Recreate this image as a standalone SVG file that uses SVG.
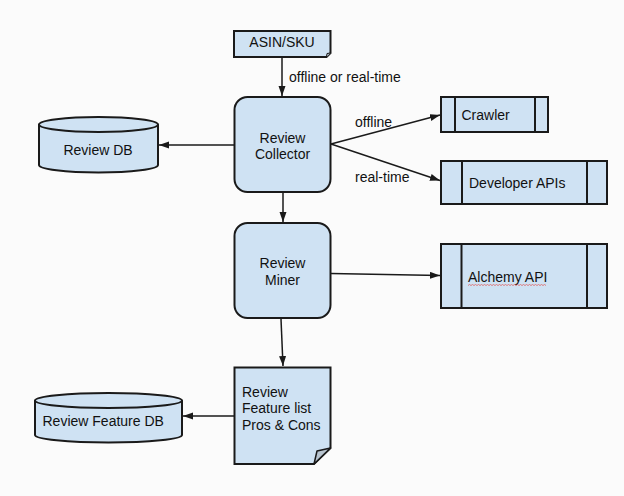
<svg xmlns="http://www.w3.org/2000/svg" width="624" height="496" viewBox="0 0 624 496">
<style>
.s{fill:#cfe2f3;stroke:#1a1a1a;stroke-width:2}
.l{fill:none;stroke:#1a1a1a;stroke-width:1.5}
.t{font-family:"Liberation Sans",Arial,sans-serif;font-size:14px;fill:#111}
.c{text-anchor:middle}
</style>
<defs>
<marker id="ah" markerUnits="userSpaceOnUse" markerWidth="11" markerHeight="8" refX="10" refY="3.5" orient="auto">
<path d="M0,0 L10,3.5 L0,7 z" fill="#1a1a1a"/>
</marker>
</defs>
<rect width="624" height="496" fill="#fbfbfb"/>
<g id="connectors">
<line class="l" x1="282" y1="58" x2="282" y2="96" marker-end="url(#ah)"/>
<text class="t" x="289" y="81.5">offline or real-time</text>
<line class="l" x1="234" y1="145" x2="159" y2="145" marker-end="url(#ah)"/>
<line class="l" x1="331" y1="144" x2="440" y2="115" marker-end="url(#ah)"/>
<line class="l" x1="331" y1="144" x2="440" y2="180.5" marker-end="url(#ah)"/>
<text class="t" x="355" y="126.5">offline</text>
<text class="t" x="355" y="181.5">real-time</text>
<line class="l" x1="283" y1="193" x2="283" y2="222" marker-end="url(#ah)"/>
<line class="l" x1="331" y1="273.5" x2="440" y2="275.5" marker-end="url(#ah)"/>
<line class="l" x1="281" y1="319" x2="283" y2="366" marker-end="url(#ah)"/>
<line class="l" x1="234" y1="416" x2="183" y2="416" marker-end="url(#ah)"/>
</g>
<g id="asin">
<path class="s" d="M234,31 H330.5 V53 L326.5,57 H234 Z"/>
<path d="M326.5,57 L327,53.5 L330.5,53" fill="#b8c4cf" stroke="#1a1a1a" stroke-width="1"/>
<text class="t c" x="282" y="47">ASIN/SKU</text>
</g>
<g id="collector">
<rect class="s" x="234.5" y="97" width="96" height="95" rx="13"/>
<text class="t c" x="282.5" y="142.5">Review</text>
<text class="t c" x="282.5" y="159">Collector</text>
</g>
<g id="reviewdb">
<path class="s" d="M39,124.5 V165 A59.5,7.5 0 0 0 158,165 V124.5 A59.5,7.5 0 0 0 39,124.5 Z"/>
<path class="l" style="stroke-width:2" d="M39,124.5 A59.5,7.5 0 0 0 158,124.5"/>
<text class="t c" x="98" y="155">Review DB</text>
</g>
<g id="crawler">
<rect class="s" x="441" y="97" width="107" height="35"/>
<line class="l" style="stroke-width:2" x1="455" y1="97" x2="455" y2="132"/>
<line class="l" style="stroke-width:2" x1="535" y1="97" x2="535" y2="132"/>
<text class="t" x="461.5" y="120">Crawler</text>
</g>
<g id="devapis">
<rect class="s" x="441" y="161" width="166" height="43"/>
<line class="l" style="stroke-width:2" x1="462" y1="161" x2="462" y2="204"/>
<line class="l" style="stroke-width:2" x1="587" y1="161" x2="587" y2="204"/>
<text class="t" x="469" y="188">Developer APIs</text>
</g>
<g id="miner">
<rect class="s" x="234.5" y="223" width="96" height="95" rx="13"/>
<text class="t c" x="282.5" y="268">Review</text>
<text class="t c" x="282.5" y="285">Miner</text>
</g>
<g id="alchemy">
<rect class="s" x="441" y="244" width="166" height="64"/>
<line class="l" style="stroke-width:2" x1="461.5" y1="244" x2="461.5" y2="308"/>
<line class="l" style="stroke-width:2" x1="587" y1="244" x2="587" y2="308"/>
<text class="t" x="468" y="282">Alchemy API</text>
<path d="M468,285.5 l1.5,-1 l1.5,1 l1.5,-1 l1.5,1 l1.5,-1 l1.5,1 l1.5,-1 l1.5,1 l1.5,-1 l1.5,1 l1.5,-1 l1.5,1 l1.5,-1 l1.5,1 l1.5,-1 l1.5,1 l1.5,-1 l1.5,1 l1.5,-1 l1.5,1 l1.5,-1 l1.5,1 l1.5,-1 l1.5,1 l1.5,-1 l1.5,1 l1.5,-1 l1.5,1 l1.5,-1 l1.5,1 l1.5,-1 l1.5,1 l1.5,-1 l1.5,1 l1.5,-1 l1.5,1 l1.5,-1 l1.5,1 l1.5,-1 l1.5,1 l1.5,-1 l1.5,1 l1.5,-1 l1.5,1 l1.5,-1 l1.5,1 l1.5,-1 l1.5,1 l1.5,-1 l1.5,1 l1.5,-1 l1.5,1" fill="none" stroke="#e06060" stroke-width="0.8"/>
</g>
<g id="featurelist">
<path class="s" d="M234.5,367.5 H330.5 V448 L314,464 H234.5 Z"/>
<path d="M314,464 L317,451 L330.5,448 Z" fill="#b8c4cf" stroke="#1a1a1a" stroke-width="1.5" stroke-linejoin="round"/>
<text class="t" x="242" y="397">Review</text>
<text class="t" x="242" y="413">Feature list</text>
<text class="t" x="242" y="429.5">Pros &amp; Cons</text>
</g>
<g id="featuredb">
<path class="s" d="M35,400.5 V435 A73.5,7.5 0 0 0 182,435 V400.5 A73.5,7.5 0 0 0 35,400.5 Z"/>
<path class="l" style="stroke-width:2" d="M35,400.5 A73.5,7.5 0 0 0 182,400.5"/>
<text class="t" x="42.5" y="426">Review Feature DB</text>
</g>
</svg>
